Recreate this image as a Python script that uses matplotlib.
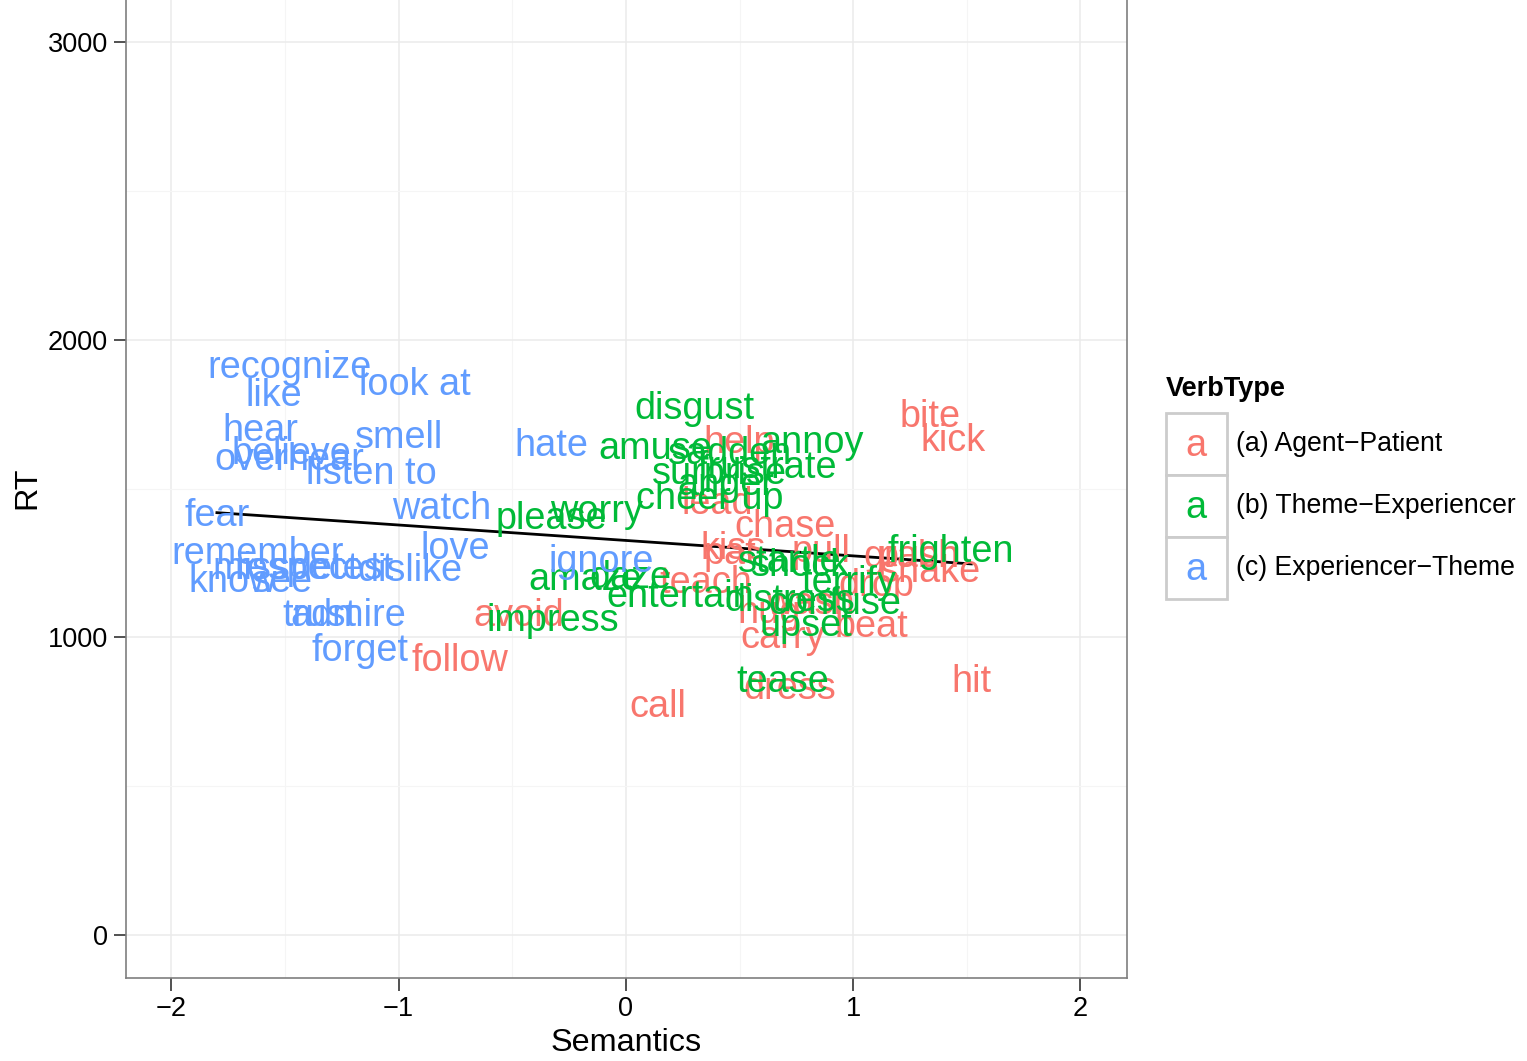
import numpy as np
import matplotlib
matplotlib.use("Agg")
import matplotlib.pyplot as plt
from matplotlib.patches import Rectangle
from matplotlib.transforms import offset_copy

plt.rcParams['font.family'] = ['Liberation Sans', 'DejaVu Sans']

# ---- data ----
ap_verbs = ["help", "lead", "chase", "bite", "kick", "kiss", "pat", "pull", "grab", "push",
            "shake", "drop", "teach", "hug", "wash", "beat", "carry", "avoid", "follow",
            "dress", "hit", "call"]
ap_sem = [0.50, 0.40, 0.70, 1.34, 1.44, 0.47, 0.46, 0.86, 1.21, 1.29,
          1.34, 1.10, 0.35, 0.63, 0.81, 1.08, 0.69, -0.47, -0.73,
          0.72, 1.52, 0.14]
ap_rt = [1663, 1461, 1384, 1753, 1673, 1310, 1293, 1300, 1283, 1283,
         1233, 1183, 1193, 1092, 1125, 1048, 1008, 1085, 934,
         840, 863, 779]

te_verbs = ["disgust", "amuse", "sadden", "annoy", "surprise", "frustrate", "anger",
            "please", "worry", "cheer up", "amaze", "daze", "entertain", "impress",
            "frighten", "shock", "startle", "terrify", "distress", "confuse", "upset", "tease"]
te_sem = [0.30, 0.13, 0.46, 0.82, 0.41, 0.62, 0.44,
          -0.33, -0.13, 0.37, -0.18, 0.02, 0.24, -0.32,
          1.43, 0.77, 0.72, 0.98, 0.72, 0.92, 0.79, 0.69]
te_rt = [1780, 1646, 1629, 1663, 1562, 1579, 1522,
         1411, 1434, 1478, 1203, 1210, 1149, 1068,
         1300, 1250, 1266, 1193, 1135, 1125, 1051, 863]

et_verbs = ["recognize", "like", "look at", "hear", "believe", "overhear", "smell",
            "listen to", "fear", "watch", "hate", "remember", "love", "dislike",
            "miss", "respect", "detest", "know", "see", "trust", "admire", "forget", "ignore"]
et_sem = [-1.48, -1.55, -0.93, -1.61, -1.47, -1.48, -1.00,
          -1.12, -1.80, -0.81, -0.33, -1.62, -0.75, -0.95,
          -1.65, -1.45, -1.25, -1.73, -1.51, -1.35, -1.22, -1.17, -0.11]
et_rt = [1915, 1821, 1858, 1706, 1629, 1609, 1680,
         1562, 1421, 1444, 1653, 1293, 1310, 1236,
         1240, 1240, 1240, 1199, 1199, 1082, 1082, 967, 1266]

legend_labels = ["(a) Agent\u2212Patient", "(b) Theme\u2212Experiencer", "(c) Experiencer\u2212Theme"]
colors = ["#F8766D", "#00BA38", "#619CFF"]

# ---- figure ----
W, H = 1527, 1061
fig = plt.figure(figsize=(15.27, 10.61), dpi=100)
ax = fig.add_axes([126/W, 1 - 978/H, (1127 - 126)/W, (978 + 3)/H])

ax.set_xlim(-2.2, 2.205)
ax.set_ylim(-144, 3151)

ax.set_xticks([-2, -1, 0, 1, 2])
ax.set_xticklabels(["\u22122", "\u22121", "0", "1", "2"])
ax.set_yticks([0, 1000, 2000, 3000])
ax.set_xticks([-1.5, -0.5, 0.5, 1.5], minor=True)
ax.set_yticks([500, 1500, 2500], minor=True)
ax.grid(True, which='major', color='#EBEBEB', lw=1.1)
ax.grid(True, which='minor', color='#F5F5F5', lw=0.8)
ax.set_axisbelow(True)
for s in ax.spines.values():
    s.set_color('#7F7F7F')
    s.set_linewidth(1.2)
ax.tick_params(axis='both', which='major', length=9, width=1.2, color='#333333',
               labelsize=19.5, labelcolor='black', pad=4)
ax.tick_params(axis='both', which='minor', length=0)

trans = offset_copy(ax.transData, fig=fig, x=0, y=-2.5, units='points')
groups = [(ap_verbs, ap_sem, ap_rt), (te_verbs, te_sem, te_rt), (et_verbs, et_sem, et_rt)]
for (verbs, xs, ys), c in zip(groups, colors):
    for v, x, y in zip(verbs, xs, ys):
        ax.text(x, y, v, color=c, fontsize=27.3, ha='center', va='center', transform=trans)

# regression line
allx = np.array(ap_sem + te_sem + et_sem)
ally = np.array(ap_rt + te_rt + et_rt)
b, a = np.polyfit(allx, ally, 1)
xx = np.array([allx.min(), allx.max()])
ax.plot(xx, a + b * xx, color='black', lw=2)

ax.set_xlabel("Semantics", fontsize=23.3, labelpad=4)
ax.set_ylabel("RT", fontsize=23.3, labelpad=4)

# ---- legend (manual, ggplot-style) ----
fig.text(1166/W, 1 - 389/H, "VerbType", fontsize=19.5, fontweight='bold', va='center', ha='left')
key_top = 413
key_h = 62
for i, (lab, c) in enumerate(zip(legend_labels, colors)):
    y0 = key_top + i * key_h
    fig.add_artist(Rectangle((1166/W, 1 - (y0 + key_h)/H), 61/W, key_h/H,
                             transform=fig.transFigure, facecolor='white',
                             edgecolor='#CCCCCC', lw=2))
    fig.text(1196/W, 1 - (y0 + key_h/2 + 2)/H, "a", color=c, fontsize=27.3, ha='center', va='center')
    fig.text(1236/W, 1 - (y0 + key_h/2)/H, lab, fontsize=19.2, ha='left', va='center')

fig.savefig("out.png", dpi=100)
